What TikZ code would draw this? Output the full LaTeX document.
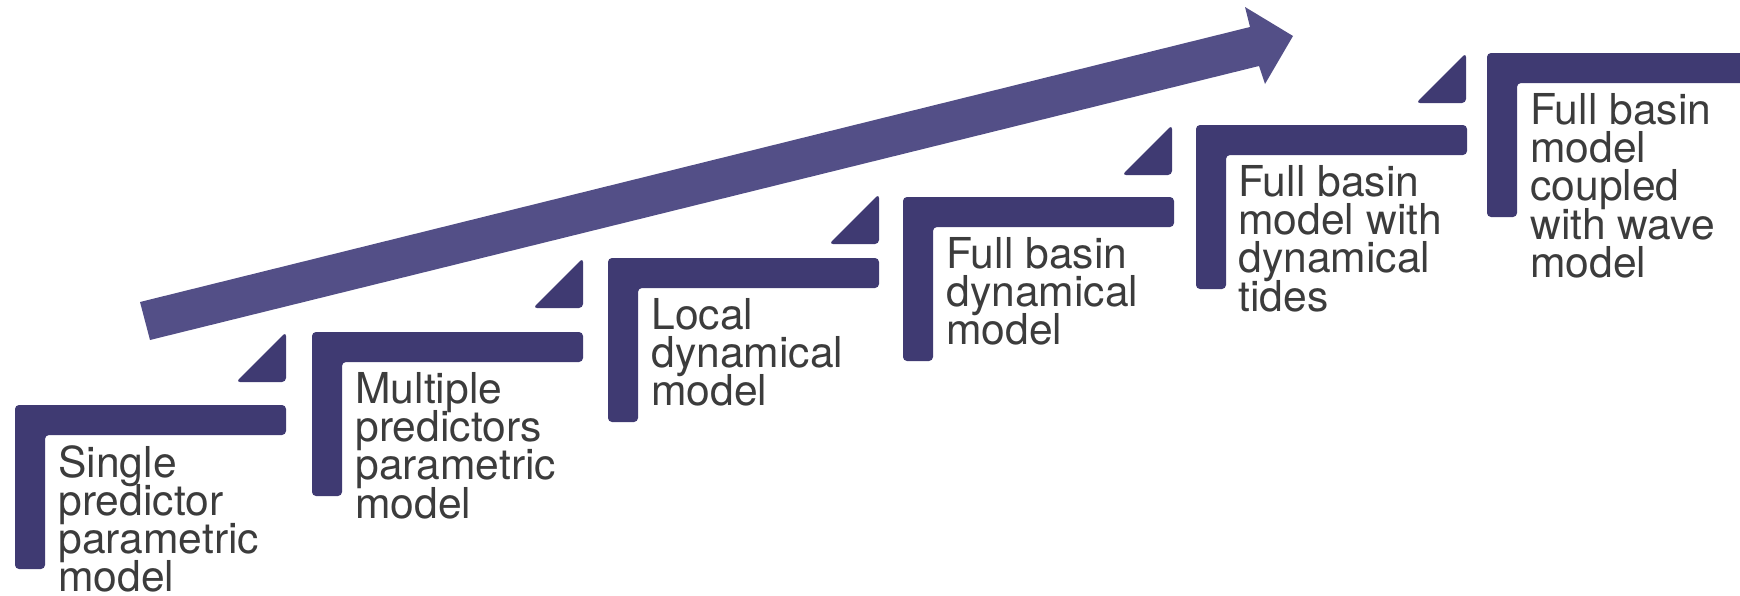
\documentclass[tikz,border=0pt]{standalone}
\usepackage{fontspec}
\setmainfont{TeX Gyre Heros}
\definecolor{stepfill}{HTML}{3F3A72}
\definecolor{arrowfill}{HTML}{534F87}
\definecolor{textgray}{HTML}{3C3C3C}
\newcommand{\stepfont}{\fontsize{21.3}{19.1}\selectfont\lineskiplimit=-100pt\relax}

\begin{document}
\begin{tikzpicture}[x=0.5pt, y=-0.5pt,
    stair/.pic={\fill[stepfill, rounded corners=2] (0,0) -- (271,0) -- (271,30) -- (30,30) -- (30,164) -- (0,164) -- cycle;},
    notch/.pic={\fill[stepfill, rounded corners=2] (0,0) -- (0,50) -- (-50,50) -- cycle;},
    steptext/.style={anchor=north west, inner sep=0pt, align=left, text=textgray, font=\stepfont}
]
\useasboundingbox (0,0) rectangle (1740,595);

% rising arrow
\coordinate (tailtop) at (140,302);
\coordinate (tailbot) at (150,340);
\coordinate (headtop) at (1250,27);
\coordinate (headbot) at (1259,66);
\coordinate (barbtop) at (1245,7);
\coordinate (barbbot) at (1265,84);
\coordinate (tip) at (1293,36);
\fill[arrowfill] (tailtop) -- (headtop) -- (barbtop) -- (tip) -- (barbbot) -- (headbot) -- (tailbot) -- cycle;

% steps
\pic at (15,405) {stair};
\node[steptext] (s1) at (58,445) {Single\\predictor\\parametric\\model};
\pic at (286,332) {notch};

\pic at (312,332) {stair};
\node[steptext] (s2) at (355,372) {Multiple\\predictors\\parametric\\model};
\pic at (583,258) {notch};

\pic at (608,258) {stair};
\node[steptext] (s3) at (651,298) {Local\\dynamical\\model};
\pic at (879,194) {notch};

\pic at (903,197) {stair};
\node[steptext] (s4) at (946,237) {Full basin\\dynamical\\model};
\pic at (1172,125) {notch};

\pic at (1196,125) {stair};
\node[steptext] (s5) at (1238,165) {Full basin\\model with\\dynamical\\tides};
\pic at (1466,53) {notch};

\pic at (1487,53) {stair};
\node[steptext] (s6) at (1530,93) {Full basin\\model\\coupled\\with wave\\model};

\end{tikzpicture}
\end{document}
